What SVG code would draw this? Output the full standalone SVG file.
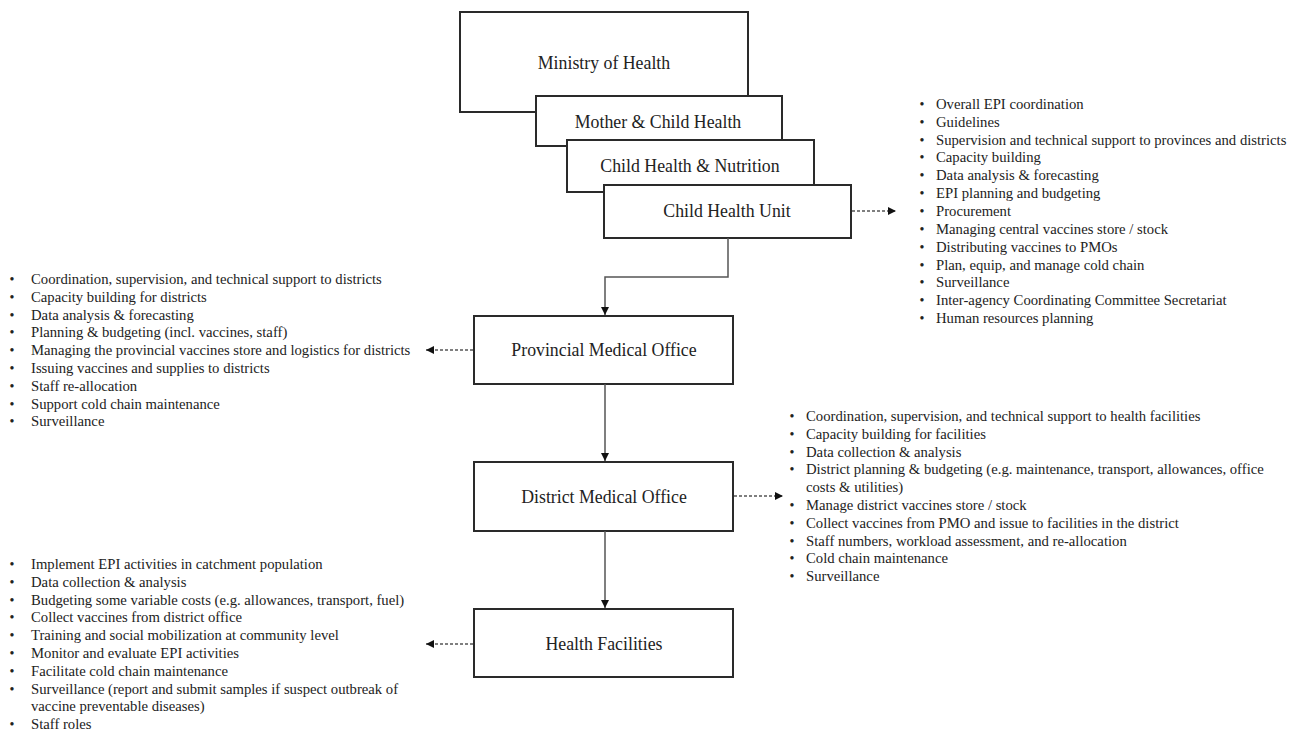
<svg xmlns="http://www.w3.org/2000/svg" width="1290" height="730" viewBox="0 0 1290 730">
<defs>
<style>
.box{fill:#fff;stroke:#2a2a2a;stroke-width:2}
.lbl{font-family:"Liberation Serif","Times New Roman",serif;font-size:17.8px;fill:#222;text-anchor:middle}
.li{font-family:"Liberation Serif","Times New Roman",serif;font-size:14.7px;fill:#222}
.bul{font-family:"Liberation Serif","Times New Roman",serif;font-size:14px;fill:#222;text-anchor:middle}
.solid{fill:none;stroke:#555;stroke-width:1.5}
.dash{fill:none;stroke:#555;stroke-width:1.3;stroke-dasharray:3 2}
</style>
<marker id="ah" viewBox="0 0 10 10" refX="10" refY="5" markerWidth="8" markerHeight="8" markerUnits="userSpaceOnUse" orient="auto">
<path d="M0,0 L10,5 L0,10 z" fill="#111"/>
</marker>
</defs>
<rect width="1290" height="730" fill="#fff"/>

<g id="ministry"><rect class="box" x="460" y="12" width="288" height="100"/><text class="lbl" x="604" y="69">Ministry of Health</text></g>
<g id="mch"><rect class="box" x="536" y="96" width="246" height="50"/><text class="lbl" x="658" y="128">Mother &amp; Child Health</text></g>
<g id="chn"><rect class="box" x="567" y="140" width="247" height="52"/><text class="lbl" x="690" y="172">Child Health &amp; Nutrition</text></g>
<g id="chu"><rect class="box" x="604" y="185" width="247" height="53"/><text class="lbl" x="727" y="217">Child Health Unit</text></g>
<g id="pmo"><rect class="box" x="474" y="316" width="259" height="68"/><text class="lbl" x="604" y="356">Provincial Medical Office</text></g>
<g id="dmo"><rect class="box" x="474" y="462" width="259" height="69"/><text class="lbl" x="604" y="503">District Medical Office</text></g>
<g id="hf"><rect class="box" x="474" y="609" width="259" height="68"/><text class="lbl" x="604" y="650">Health Facilities</text></g>

<g id="connectors">
<path class="solid" d="M728,238 V277 H605 V315" marker-end="url(#ah)"/>
<path class="solid" d="M605,384 V461" marker-end="url(#ah)"/>
<path class="solid" d="M605,531 V608" marker-end="url(#ah)"/>
<path class="dash" d="M852,211 H896" marker-end="url(#ah)"/>
<path class="dash" d="M473,350 H426" marker-end="url(#ah)"/>
<path class="dash" d="M734,496 H783" marker-end="url(#ah)"/>
<path class="dash" d="M473,644 H426" marker-end="url(#ah)"/>
</g>

<g id="chu-list">
<g class="bul"><text x="922" y="109">•</text><text x="922" y="127">•</text><text x="922" y="145">•</text><text x="922" y="162">•</text><text x="922" y="180">•</text><text x="922" y="198">•</text><text x="922" y="216">•</text><text x="922" y="234">•</text><text x="922" y="252">•</text><text x="922" y="270">•</text><text x="922" y="287">•</text><text x="922" y="305">•</text><text x="922" y="323">•</text></g>
<text class="li" x="936" y="109">Overall EPI coordination</text>
<text class="li" x="936" y="127">Guidelines</text>
<text class="li" x="936" y="145">Supervision and technical support to provinces and districts</text>
<text class="li" x="936" y="162">Capacity building</text>
<text class="li" x="936" y="180">Data analysis &amp; forecasting</text>
<text class="li" x="936" y="198">EPI planning and budgeting</text>
<text class="li" x="936" y="216">Procurement</text>
<text class="li" x="936" y="234">Managing central vaccines store / stock</text>
<text class="li" x="936" y="252">Distributing vaccines to PMOs</text>
<text class="li" x="936" y="270">Plan, equip, and manage cold chain</text>
<text class="li" x="936" y="287">Surveillance</text>
<text class="li" x="936" y="305">Inter-agency Coordinating Committee Secretariat</text>
<text class="li" x="936" y="323">Human resources planning</text>
</g>

<g id="pmo-list">
<g class="bul"><text x="12" y="284">•</text><text x="12" y="302">•</text><text x="12" y="320">•</text><text x="12" y="337">•</text><text x="12" y="355">•</text><text x="12" y="373">•</text><text x="12" y="391">•</text><text x="12" y="409">•</text><text x="12" y="426">•</text></g>
<text class="li" x="31" y="284">Coordination, supervision, and technical support to districts</text>
<text class="li" x="31" y="302">Capacity building for districts</text>
<text class="li" x="31" y="320">Data analysis &amp; forecasting</text>
<text class="li" x="31" y="337">Planning &amp; budgeting (incl. vaccines, staff)</text>
<text class="li" x="31" y="355">Managing the provincial vaccines store and logistics for districts</text>
<text class="li" x="31" y="373">Issuing vaccines and supplies to districts</text>
<text class="li" x="31" y="391">Staff re-allocation</text>
<text class="li" x="31" y="409">Support cold chain maintenance</text>
<text class="li" x="31" y="426">Surveillance</text>
</g>

<g id="dmo-list">
<g class="bul"><text x="792" y="421">•</text><text x="792" y="439">•</text><text x="792" y="457">•</text><text x="792" y="474">•</text><text x="792" y="510">•</text><text x="792" y="528">•</text><text x="792" y="546">•</text><text x="792" y="563">•</text><text x="792" y="581">•</text></g>
<text class="li" x="806" y="421">Coordination, supervision, and technical support to health facilities</text>
<text class="li" x="806" y="439">Capacity building for facilities</text>
<text class="li" x="806" y="457">Data collection &amp; analysis</text>
<text class="li" x="806" y="474">District planning &amp; budgeting (e.g. maintenance, transport, allowances, office</text>
<text class="li" x="806" y="492">costs &amp; utilities)</text>
<text class="li" x="806" y="510">Manage district vaccines store / stock</text>
<text class="li" x="806" y="528">Collect vaccines from PMO and issue to facilities in the district</text>
<text class="li" x="806" y="546">Staff numbers, workload assessment, and re-allocation</text>
<text class="li" x="806" y="563">Cold chain maintenance</text>
<text class="li" x="806" y="581">Surveillance</text>
</g>

<g id="hf-list">
<g class="bul"><text x="12" y="569">•</text><text x="12" y="587">•</text><text x="12" y="605">•</text><text x="12" y="622">•</text><text x="12" y="640">•</text><text x="12" y="658">•</text><text x="12" y="676">•</text><text x="12" y="694">•</text><text x="12" y="729">•</text></g>
<text class="li" x="31" y="569">Implement EPI activities in catchment population</text>
<text class="li" x="31" y="587">Data collection &amp; analysis</text>
<text class="li" x="31" y="605">Budgeting some variable costs (e.g. allowances, transport, fuel)</text>
<text class="li" x="31" y="622">Collect vaccines from district office</text>
<text class="li" x="31" y="640">Training and social mobilization at community level</text>
<text class="li" x="31" y="658">Monitor and evaluate EPI activities</text>
<text class="li" x="31" y="676">Facilitate cold chain maintenance</text>
<text class="li" x="31" y="694">Surveillance (report and submit samples if suspect outbreak of</text>
<text class="li" x="31" y="711">vaccine preventable diseases)</text>
<text class="li" x="31" y="729">Staff roles</text>
</g>
</svg>
